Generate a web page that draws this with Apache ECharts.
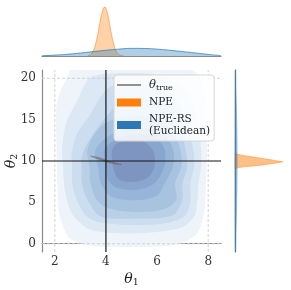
<!DOCTYPE html>
<html><head><meta charset="utf-8">
<script src="https://cdn.jsdelivr.net/npm/echarts@6/dist/echarts.min.js"></script>
<style>html,body{margin:0;padding:0;background:#fff}#c{width:291px;height:290px}</style>
</head><body><div id="c"></div>
<script>
// ---- data ----
const xLimits = [1.5, 8.5];
const yLimits = [-1, 21];
const xTicks = [2, 4, 6, 8];
const yTicks = [0, 5, 10, 15, 20];
const thetaTrue = [4, 10];
const priorX = [2, 8];     // dashed prior-bound lines
const priorY = [0, 20];

// NPE-RS (Euclidean) KDE contour levels, outermost first
const rsLevel1 = [[2.6,21.2],[5.0,21.3],[7.2,21.2],[7.75,19.8],[7.92,17.0],[7.95,11.2],[7.94,9.3],[7.88,5.3],[7.81,3.3],[7.55,1.2],[6.8,-0.1],[5.2,-0.4],[3.6,-0.3],[2.6,0.6],[2.2,3.3],[2.12,5.3],[2.1,7.3],[2.07,11.2],[2.07,16.8],[2.27,18.8],[2.55,20.5]];
const rsLevel2 = [[3.4,20.1],[4.8,20.6],[6.2,20.3],[7.1,18.6],[7.55,15.5],[7.72,11.2],[7.72,9.3],[7.62,7.3],[7.58,5.3],[7.45,3.3],[6.9,1.9],[5.1,1.25],[3.4,1.7],[2.75,3.3],[2.47,5.3],[2.36,7.3],[2.33,9.3],[2.28,11.2],[2.31,12.4],[2.47,14.8],[2.86,17.2]];
const rsLevel3 = [[4.09,18.8],[5.0,19.3],[6.0,18.9],[6.7,17.5],[7.15,15.0],[7.42,11.2],[7.45,9.3],[7.3,7.3],[7.3,5.3],[7.1,3.4],[6.4,2.5],[5.1,2.25],[3.8,2.6],[3.25,3.3],[2.86,5.3],[2.68,7.3],[2.68,9.3],[2.66,10.8],[2.86,13.2],[3.38,15.6]];
const rsLevel4 = [[4.48,16.8],[5.3,17.5],[6.2,16.9],[6.85,14.6],[7.12,11.2],[7.18,9.3],[7.0,7.3],[6.98,5.3],[6.6,3.4],[5.2,3.05],[3.8,3.3],[3.28,5.3],[3.06,7.3],[3.05,9.3],[3.05,10.4],[3.25,12.0],[3.77,14.4]];
const rsLevel5 = [[4.0,14.6],[5.0,15.5],[6.1,14.9],[6.7,13.0],[6.92,11.2],[6.95,9.3],[6.7,7.3],[6.75,5.3],[6.2,4.1],[5.1,3.85],[4.1,4.3],[3.64,5.3],[3.4,7.3],[3.36,9.3],[3.27,11.2],[3.5,13.0]];
const rsLevel6 = [[4.0,12.8],[4.9,14.0],[5.8,13.9],[6.35,13.0],[6.64,11.2],[6.62,9.3],[6.3,7.3],[6.0,5.8],[5.1,5.25],[4.2,5.7],[3.8,7.3],[3.7,9.3],[3.58,11.2]];
const rsLevel7 = [[4.1,12.0],[4.8,13.1],[5.6,13.2],[6.1,12.4],[6.31,11.2],[6.28,9.3],[5.9,7.3],[5.2,6.5],[4.4,6.8],[4.08,7.8],[4.0,9.3],[3.92,11.2]];
const rsLevel8 = [[4.4,12.1],[4.95,12.6],[5.5,12.3],[5.85,11.2],[5.9,9.3],[5.6,7.9],[5.0,7.45],[4.5,7.8],[4.3,9.0],[4.23,10.5],[4.25,11.4]];
const rsContours = [rsLevel1, rsLevel2, rsLevel3, rsLevel4, rsLevel5, rsLevel6, rsLevel7, rsLevel8];

// NPE posterior: thin streak
const npeStreak = [[3.40,10.62],[3.70,10.45],[4.00,10.15],[4.35,9.82],[4.62,9.56],[4.35,9.64],[4.00,9.88],[3.70,10.20],[3.45,10.50]];

// top marginal (theta_1)
const topNpeX = [3.3,3.4,3.5,3.6,3.7,3.8,3.9,3.95,4.0,4.1,4.2,4.3,4.4,4.5,4.6,4.7];
const topNpe  = [0.008,0.032,0.10,0.25,0.49,0.775,0.97,1.0,0.97,0.775,0.49,0.25,0.10,0.032,0.008,0.0];
const topRsX = [1.5,2.0,2.5,3.0,3.5,4.0,4.5,5.0,5.5,6.0,6.5,7.0,7.5,8.0,8.5];
const topRs  = [0.004,0.018,0.036,0.06,0.09,0.117,0.14,0.156,0.154,0.14,0.117,0.09,0.062,0.032,0.008];

// right marginal (theta_2)
const rightNpeY = [9.0,9.1,9.2,9.3,9.4,9.5,9.6,9.7,9.8,9.9,10.0,10.1,10.2,10.3,10.4,10.5,10.6,10.7,10.8,10.9,11.0];
const rightNpe  = [0.0,0.02,0.08,0.2,0.38,0.55,0.68,0.8,0.91,1.0,0.9,0.8,0.69,0.58,0.47,0.36,0.25,0.15,0.06,0.02,0.0];
const rightRsY = [-1,1,3,5,7,9,11,13,15,17,19,21];
const rightRs  = [0.012,0.02,0.028,0.035,0.041,0.044,0.044,0.041,0.035,0.028,0.02,0.012];

// ---- styles ----
const contourColors = ['#eef4fa','#dce8f4','#cbddee','#b9d0e7','#a7c3e0','#96b5d8','#89a7ce','#7d95c0'];
const serif = 'DejaVu Serif';
const axisGray = '#8a8a8a';

const chart = echarts.init(document.getElementById('c'), null, {renderer: 'canvas'});

function tickFormatter(list) { return v => list.includes(v) ? String(v) : ''; }

const subRich = {
  t: {fontFamily: serif, fontStyle: 'italic', fontSize: 14, color: '#222'},
  s: {fontFamily: serif, fontSize: 9.5, color: '#222', padding: [8, 0, 0, 0]}
};

const option = {
  animation: false,
  backgroundColor: '#fff',
  grid: [
    {left: 42, top: 70, width: 179, height: 182, containLabel: false, outerBoundsMode: 'none'},
    {left: 42, top: 0, width: 179, height: 56, containLabel: false, outerBoundsMode: 'none'},
    {left: 235, top: 70, width: 50, height: 182, containLabel: false, outerBoundsMode: 'none'}
  ],
  xAxis: [
    {type: 'value', gridIndex: 0, min: xLimits[0], max: xLimits[1], splitNumber: 4,
     axisLine: {show: true, lineStyle: {color: axisGray, width: 1.2}}, axisTick: {show: false},
     axisLabel: {formatter: tickFormatter(xTicks), showMinLabel: false, showMaxLabel: false, fontFamily: serif, fontSize: 12, color: '#333', margin: 4},
     splitLine: {show: false},
     name: '{t|θ}{s|1}', nameLocation: 'middle', nameGap: 18, nameMoveOverlap: false, nameTextStyle: {rich: subRich}},
    {type: 'value', gridIndex: 1, min: xLimits[0], max: xLimits[1],
     axisLine: {show: true, lineStyle: {color: axisGray, width: 1.2}}, axisTick: {show: false},
     axisLabel: {show: false}, splitLine: {show: false}},
    {type: 'value', gridIndex: 2, min: 0, max: 1.04, show: false}
  ],
  yAxis: [
    {type: 'value', gridIndex: 0, min: yLimits[0], max: yLimits[1], splitNumber: 4,
     axisLine: {show: true, lineStyle: {color: axisGray, width: 1.2}}, axisTick: {show: false},
     axisLabel: {formatter: tickFormatter(yTicks), showMinLabel: false, showMaxLabel: false, fontFamily: serif, fontSize: 12, color: '#333', margin: 6},
     splitLine: {show: false},
     name: '{t|θ}{s|2}', nameLocation: 'middle', nameGap: 22, nameMoveOverlap: false, nameTextStyle: {rich: subRich}},
    {type: 'value', gridIndex: 1, min: 0, max: 1.143, show: false},
    {type: 'value', gridIndex: 2, min: yLimits[0], max: yLimits[1],
     axisLine: {show: true, lineStyle: {color: axisGray, width: 1.2}}, axisTick: {show: false},
     axisLabel: {show: false}, splitLine: {show: false}}
  ],
  legend: {
    orient: 'vertical', left: 114, top: 75,
    padding: [4, 4, 4, 3],
    itemWidth: 24, itemHeight: 8, itemGap: 4.5,
    backgroundColor: 'rgba(255,255,255,0.82)', borderColor: '#d6d6d6', borderWidth: 1, borderRadius: 3,
    selectedMode: false,
    textStyle: {fontFamily: serif, fontSize: 10.5, lineHeight: 12, color: '#222', padding: [0, 0, 0, 3],
      rich: {
        t: {fontFamily: serif, fontStyle: 'italic', fontSize: 11.5, color: '#222'},
        s: {fontFamily: serif, fontSize: 8, color: '#222', padding: [6, 0, 0, 0]}
      }},
    formatter: n => n === 'theta_true' ? '{t|θ}{s|true}' : n,
    data: [
      {name: 'theta_true', icon: 'path://M0,0L24,0L24,1.6L0,1.6Z', itemStyle: {color: '#777'}},
      {name: 'NPE', icon: 'rect', itemStyle: {color: '#ff7f0e'}},
      {name: 'NPE-RS\n(Euclidean)', icon: 'rect', itemStyle: {color: '#2b78b4'}}
    ]
  },
  series: [
    {
      name: 'NPE-RS\n(Euclidean)', type: 'custom', xAxisIndex: 0, yAxisIndex: 0, clip: true,
      itemStyle: {color: '#2b78b4'}, z: 2,
      data: [[5, 10]],
      renderItem: (params, api) => ({
        type: 'group',
        children: rsContours.map((poly, i) => ({
          type: 'polygon',
          shape: {points: poly.map(p => api.coord(p)), smooth: 0.3},
          style: {fill: contourColors[i], stroke: null}
        }))
      })
    },
    {
      name: 'prior', type: 'custom', xAxisIndex: 0, yAxisIndex: 0, clip: true, z: 3, silent: true,
      data: [[5, 10]],
      renderItem: (params, api) => {
        const st = {stroke: '#cdcdcd', lineWidth: 0.9, lineDash: [3, 2]};
        const kids = [];
        priorX.forEach(x => { const a = api.coord([x, yLimits[0]]), b = api.coord([x, yLimits[1]]);
          kids.push({type: 'line', shape: {x1: a[0], y1: a[1], x2: b[0], y2: b[1]}, style: st}); });
        priorY.forEach(y => { const a = api.coord([xLimits[0], y]), b = api.coord([xLimits[1], y]);
          kids.push({type: 'line', shape: {x1: a[0], y1: a[1], x2: b[0], y2: b[1]}, style: st}); });
        return {type: 'group', children: kids};
      }
    },
    {
      name: 'NPE', type: 'custom', xAxisIndex: 0, yAxisIndex: 0, clip: true,
      itemStyle: {color: '#ff7f0e'}, z: 4,
      data: [[4, 10]],
      renderItem: (params, api) => ({
        type: 'polygon',
        shape: {points: npeStreak.map(p => api.coord(p)), smooth: 0.4},
        style: {fill: 'rgba(105,80,80,0.5)', stroke: 'rgba(120,95,95,0.2)', lineWidth: 1}
      })
    },
    {
      name: 'theta_true', type: 'custom', xAxisIndex: 0, yAxisIndex: 0, clip: true,
      itemStyle: {color: '#777'}, z: 5,
      data: [[thetaTrue[0], thetaTrue[1]]],
      renderItem: (params, api) => {
        const a = api.coord([thetaTrue[0], yLimits[0]]), b = api.coord([thetaTrue[0], yLimits[1]]);
        const c = api.coord([xLimits[0], thetaTrue[1]]), d = api.coord([xLimits[1], thetaTrue[1]]);
        return {type: 'group', children: [
          {type: 'line', shape: {x1: a[0], y1: a[1], x2: b[0], y2: b[1]}, style: {stroke: '#151515', lineWidth: 1.2}},
          {type: 'line', shape: {x1: c[0], y1: c[1], x2: d[0], y2: d[1]}, style: {stroke: '#151515', lineWidth: 1.2}}
        ]};
      }
    },
    {
      name: 'NPE', type: 'line', xAxisIndex: 1, yAxisIndex: 1, symbol: 'none', smooth: true,
      data: topNpeX.map((x, i) => [x, topNpe[i]]),
      lineStyle: {color: 'rgba(255,127,14,0.55)', width: 1},
      areaStyle: {color: 'rgba(255,127,14,0.5)', origin: 'start'}, z: 2
    },
    {
      name: 'NPE-RS\n(Euclidean)', type: 'line', xAxisIndex: 1, yAxisIndex: 1, symbol: 'none', smooth: true,
      data: topRsX.map((x, i) => [x, topRs[i]]),
      lineStyle: {color: 'rgba(31,119,180,0.7)', width: 1},
      areaStyle: {color: 'rgba(31,119,180,0.5)', origin: 'start'}, z: 3
    },
    {
      name: 'NPE', type: 'custom', xAxisIndex: 2, yAxisIndex: 2, z: 2,
      itemStyle: {color: '#ff7f0e'},
      data: [[0.5, 10]],
      renderItem: (params, api) => {
        const pts = [[0, rightNpeY[0]]].concat(rightNpeY.map((y, i) => [rightNpe[i], y]), [[0, rightNpeY[rightNpeY.length - 1]]]);
        return {type: 'polygon', shape: {points: pts.map(p => api.coord(p))},
          style: {fill: 'rgba(255,127,14,0.5)', stroke: 'rgba(255,127,14,0.5)', lineWidth: 0.8}};
      }
    },
    {
      name: 'NPE-RS\n(Euclidean)', type: 'custom', xAxisIndex: 2, yAxisIndex: 2, z: 3,
      itemStyle: {color: '#2b78b4'},
      data: [[0.02, 10]],
      renderItem: (params, api) => {
        const pts = [[0, rightRsY[0]]].concat(rightRsY.map((y, i) => [rightRs[i], y]), [[0, rightRsY[rightRsY.length - 1]]]);
        return {type: 'polygon', shape: {points: pts.map(p => api.coord(p)), smooth: 0.3},
          style: {fill: 'rgba(31,119,180,0.45)', stroke: 'rgba(31,119,180,0.5)', lineWidth: 0.6}};
      }
    }
  ]
};
chart.setOption(option);
</script>
</body></html>
